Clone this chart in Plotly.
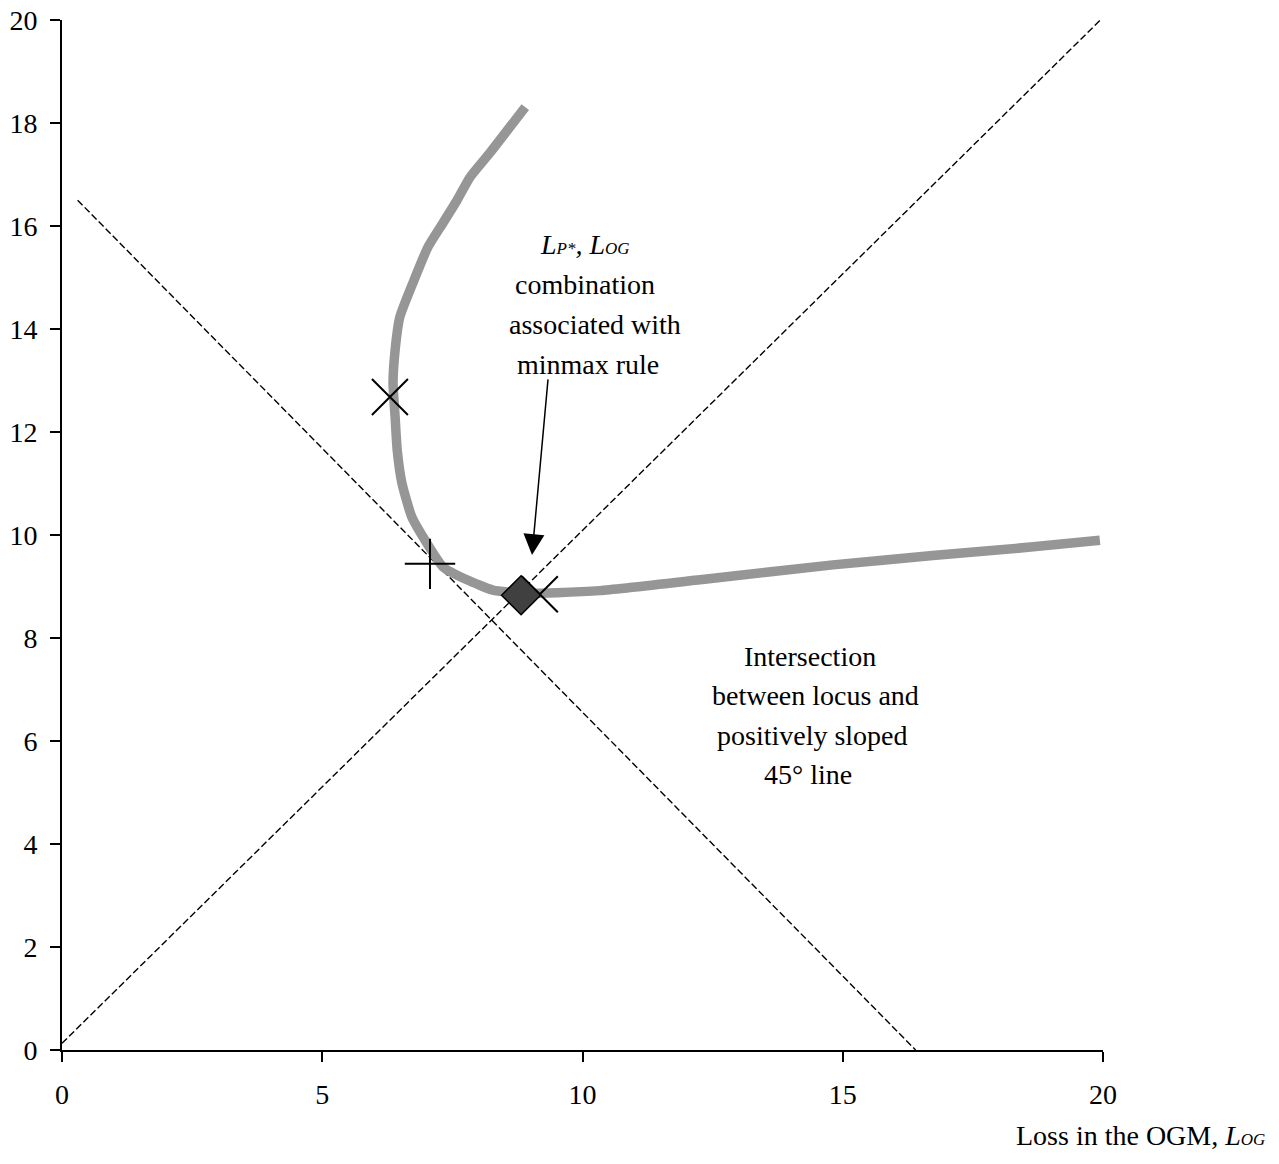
import plotly.graph_objects as go

# Locus of (L_OG, L_P*) combinations
locus_x = [8.90, 8.22, 7.84, 7.59, 7.32, 7.03, 6.74, 6.49, 6.40, 6.36, 6.40, 6.44, 6.53,
           6.72, 7.01, 7.32, 7.78, 8.28, 8.86, 9.51, 10.34, 12.26, 14.81, 16.73, 18.66, 19.94]
locus_y = [18.31, 17.42, 16.95, 16.50, 16.06, 15.59, 14.89, 14.23, 13.59, 12.95, 12.29, 11.65, 11.01,
           10.35, 9.84, 9.38, 9.13, 8.93, 8.87, 8.88, 8.92, 9.13, 9.42, 9.60, 9.77, 9.90]

# 45-degree reference lines
pos_line_x = [0.0, 19.95]
pos_line_y = [0.13, 20.0]
neg_line_x = [0.3, 16.4]
neg_line_y = [16.5, 0.0]

# Special points
x_marks_x = [6.30, 9.18]
x_marks_y = [12.68, 8.85]
plus_x = [7.07]
plus_y = [9.44]
minmax_x = [8.82]
minmax_y = [8.83]

x_ticks = [0, 5, 10, 15, 20]
y_ticks = [0, 2, 4, 6, 8, 10, 12, 14, 16, 18, 20]

FONT = "Liberation Serif"

fig = go.Figure()
fig.add_trace(go.Scatter(x=pos_line_x, y=pos_line_y, mode="lines",
                         line=dict(color="black", width=1.4, dash="7px,3px"), showlegend=False))
fig.add_trace(go.Scatter(x=neg_line_x, y=neg_line_y, mode="lines",
                         line=dict(color="black", width=1.4, dash="7px,3px"), showlegend=False))
fig.add_trace(go.Scatter(x=locus_x, y=locus_y, mode="lines",
                         line=dict(color="#969696", width=9.5, shape="spline", smoothing=0.5),
                         showlegend=False))
fig.add_trace(go.Scatter(x=x_marks_x, y=x_marks_y, mode="markers",
                         marker=dict(symbol="x-thin", size=36, line=dict(color="black", width=2)),
                         showlegend=False))
fig.add_trace(go.Scatter(x=plus_x, y=plus_y, mode="markers",
                         marker=dict(symbol="cross-thin", size=36, line=dict(color="black", width=2)),
                         showlegend=False))
fig.add_trace(go.Scatter(x=minmax_x, y=minmax_y, mode="markers",
                         marker=dict(symbol="diamond", size=30, color="#404040",
                                     line=dict(color="black", width=1.5)),
                         showlegend=False))

sub = '<span style="font-size:17px">'
anns = []
top_lines = [
    (f"<i>L{sub}P*</span>, L{sub}OG</span></i>", 585, 244),
    ("combination", 585, 284),
    ("associated with", 595, 324),
    ("minmax rule", 588, 364),
]
right_lines = [
    ("Intersection", 810, 656),
    ("between locus and", 815, 695),
    ("positively sloped", 812, 735),
    ("45° line", 808, 774),
]
x0, x1, y0, y1 = 62, 1103, 1050, 20
def px2x(p):
    return (p - x0) / (x1 - x0) * 20
def py2y(p):
    return (y0 - p) / (y0 - y1) * 20
for txt, px, py in top_lines + right_lines:
    anns.append(dict(x=px2x(px), y=py2y(py), xref="x", yref="y", text=txt, showarrow=False,
                     font=dict(family=FONT, size=28, color="black"),
                     xanchor="center", yanchor="middle"))
# Arrow
anns.append(dict(x=9.03, y=9.61, ax=9.34, ay=13.05, xref="x", yref="y", axref="x", ayref="y",
                 text="", showarrow=True, arrowhead=2, arrowsize=2.8, arrowwidth=1.5,
                 arrowcolor="black"))
# Axis title
anns.append(dict(x=(1267 - x0) / (x1 - x0), y=(y0 - 1135) / (y0 - y1), xref="paper", yref="paper",
                 text=f"Loss in the OGM, <i>L{sub}OG</span></i>", showarrow=False,
                 xanchor="right", yanchor="middle",
                 font=dict(family=FONT, size=28, color="black")))

fig.update_layout(
    width=1279, height=1164,
    margin=dict(l=62, r=176, t=20, b=114),
    plot_bgcolor="white", paper_bgcolor="white",
    annotations=anns,
    xaxis=dict(range=[0, 20], tickvals=x_ticks, showgrid=False, zeroline=False, automargin=False,
               showline=True, linecolor="black", linewidth=2, ticks="outside", ticklen=10,
               tickwidth=2, tickcolor="black", ticklabelstandoff=8,
               tickfont=dict(family=FONT, size=28, color="black")),
    yaxis=dict(range=[0, 20], tickvals=y_ticks, showgrid=False, zeroline=False, automargin=False,
               showline=True, linecolor="black", linewidth=2, ticks="outside", ticklen=10,
               tickwidth=2, tickcolor="black", ticklabelstandoff=7,
               tickfont=dict(family=FONT, size=28, color="black")),
)
fig.write_html("out.html")
